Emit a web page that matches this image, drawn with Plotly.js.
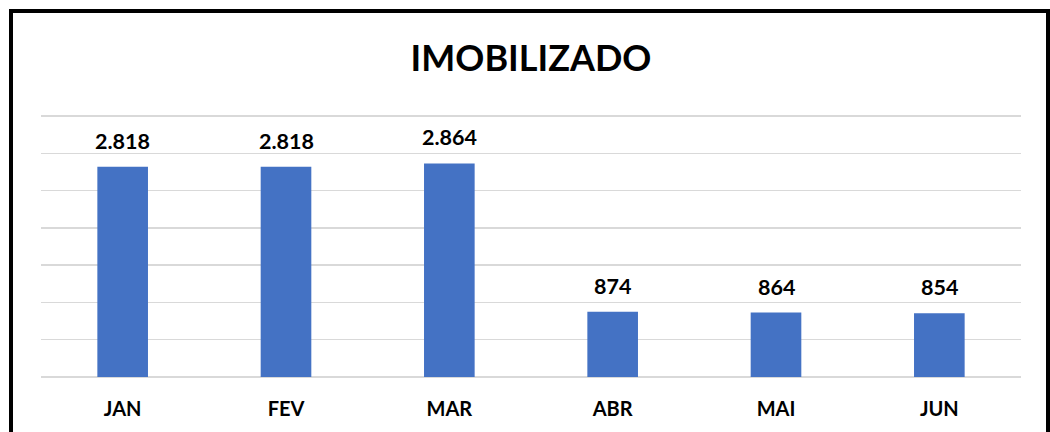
<!DOCTYPE html>
<html><head><meta charset="utf-8">
<script src="https://cdn.plot.ly/plotly-3.0.1.min.js"></script>
<style>
html,body{margin:0;padding:0;background:#fff;}
#wrap{position:relative;width:1050px;height:432px;overflow:hidden;}
#chart{position:absolute;left:0;top:0;width:1050px;height:432px;}
#frame{position:absolute;left:9px;top:9px;width:1033px;height:440px;border:4px solid #000;pointer-events:none;}
</style></head>
<body><div id="wrap"><div id="chart"></div><div id="frame"></div></div>
<script>
var months = ["JAN","FEV","MAR","ABR","MAI","JUN"];
var values = [2818, 2818, 2864, 874, 864, 854];
var gridVals = [0,500,1000,1500,2000,2500,3000,3500];

function fmt(v){ return String(v).replace(/\B(?=(\d{3})+(?!\d))/g, "."); }

var font = "Lato, 'Open Sans', sans-serif";
var annotations = months.map(function(m,i){
  return {x:m, y:values[i], xref:'x', yref:'y', text:'<b>'+fmt(values[i])+'</b>',
    showarrow:false, yanchor:'bottom', yshift:11, font:{family:font,size:21.5,color:'#000'}};
});

Plotly.newPlot('chart', [{
  type:'bar', x:months, y:values, marker:{color:'#4472C4'}, width:0.31,
  hoverinfo:'none'
}], {
  width:1050, height:432,
  margin:{l:41, r:29, t:113, b:55},
  paper_bgcolor:'#fff', plot_bgcolor:'#fff',
  title:{text:'<b>IMOBILIZADO</b>', x:0.5, xref:'paper', y:1-58/432, yanchor:'middle',
    font:{family:font, size:36, color:'#000'}},
  xaxis:{showgrid:false, zeroline:false, showline:false, ticks:'outside', ticklen:14,
    tickcolor:'rgba(0,0,0,0)', tickfont:{family:font,size:20,color:'#000'},
    tickprefix:'<b>', ticksuffix:'</b>'},
  yaxis:{range:[0,3540], tickvals:gridVals, showgrid:true, gridcolor:'#d9d9d9', gridwidth:1.5,
    zeroline:true, zerolinecolor:'#d9d9d9', zerolinewidth:1.5, showticklabels:false},
  annotations:annotations,
  showlegend:false
}, {staticPlot:true});
</script></body></html>
